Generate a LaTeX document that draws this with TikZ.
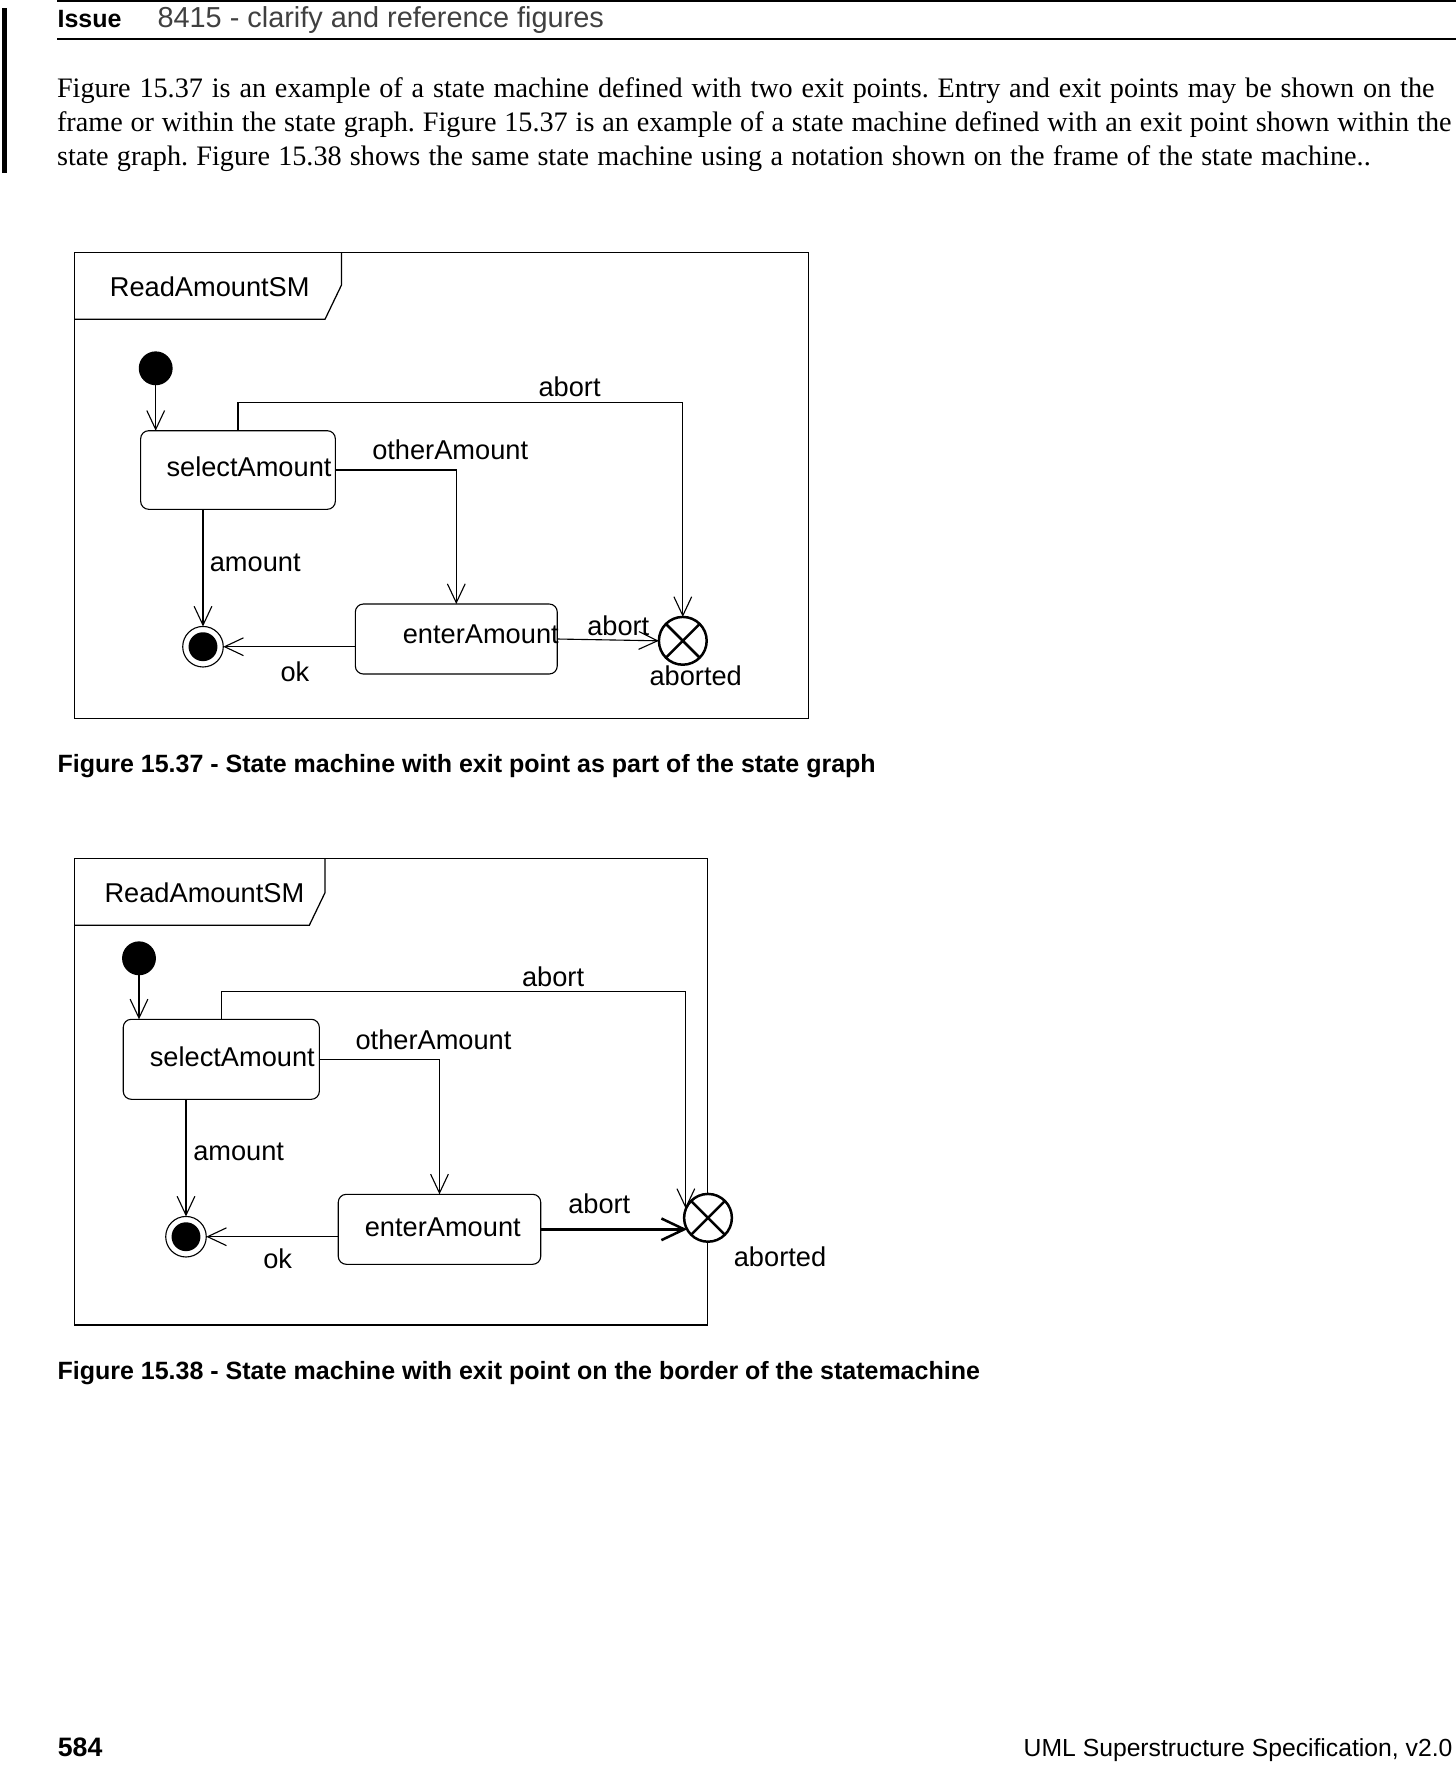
\documentclass[tikz,border=0pt]{standalone}
\usepackage{fontspec}
\setmainfont{Liberation Serif}
\newfontfamily\arialfont{Liberation Sans}
\usetikzlibrary{arrows.meta}

\tikzset{
  stbox/.style={draw, rounded corners=2.9pt, inner sep=0pt, outer sep=0pt, line width=0.4pt},
  initdot/.style={circle, fill=black, minimum size=12.2pt, inner sep=0pt, outer sep=0pt},
  finaldot/.style={circle, draw, minimum size=14.6pt, inner sep=0pt, outer sep=0pt, line width=0.4pt},
  exitpt/.style={circle, draw, fill=white, minimum size=17.2pt, inner sep=0pt, outer sep=0pt, line width=0.9pt},
  tr/.style={line width=0.4pt, -{Straight Barb[length=6.8pt,width=6.4pt]}},
  trbold/.style={line width=0.9pt, -{Straight Barb[length=8.2pt,width=7.8pt]}},
  lbl/.style={anchor=base west, inner sep=0pt, font=\arialfont\fontsize{9.8}{11}\selectfont},
  bodyline/.style={anchor=base west, inner sep=0pt, font=\fontsize{10.15}{12}\selectfont\frenchspacing},
  caption/.style={anchor=base west, inner sep=0pt, font=\arialfont\bfseries\fontsize{9}{11}\selectfont},
  frm/.style={line width=0.45pt},
}

\begin{document}
\begin{tikzpicture}[x=0.36pt, y=-0.36pt]
\useasboundingbox (0,0) rectangle (1456,1773);

% page header
\draw[line width=0.4pt] (57,1) -- (1456,1);
\draw[line width=0.8pt] (57,39) -- (1456,39);
\fill (1.7,8.3) rectangle (7.3,173);
\node[anchor=base west, inner sep=0pt, font=\arialfont\bfseries\fontsize{9}{11}\selectfont] (issue) at (57,27) {Issue};
\node[anchor=base west, inner sep=0pt, text=black!75, font=\arialfont\fontsize{10.4}{12}\selectfont] (issuetxt) at (157,27) {8415 - clarify and reference figures};

\node[bodyline] (body1) at (56.5,97) {\makebox[495.9pt][s]{Figure 15.37 is an example of a state machine defined with two exit points. Entry and exit points may be shown on the}};
\node[bodyline] (body2) at (56.5,131) {\makebox[502pt][s]{frame or within the state graph. Figure 15.37 is an example of a state machine defined with an exit point shown within the}};
\node[bodyline] (body3) at (56.5,165) {\makebox[472.9pt][s]{state graph. Figure 15.38 shows the same state machine using a notation shown on the frame of the state machine..}};

% figure 15.37
\draw[frm] (74.3,252.7) rectangle (808.3,718.3);
\draw[frm] (74.3,319.3) -- (325,319.3) -- (341.5,285) -- (341.5,252.7);
\node[lbl] (title1) at (109.3,296) {ReadAmountSM};

\node[initdot] (init1) at (155.7,368.3) {};
\node[stbox, minimum width=70.1pt, minimum height=28.3pt] (sel1) at (238,470) {};
\node[stbox, minimum width=72.7pt, minimum height=25.2pt] (ent1) at (456.3,639) {};
\node[finaldot] (fin1) at (203,646.7) {};
\fill (fin1) circle (5.2pt);
\node[exitpt] (exit1) at (682.8,640.8) {};
\draw[line width=0.9pt] (exit1.45) -- (exit1.225) (exit1.135) -- (exit1.315);
\coordinate (top1) at (0,402.3);

\draw[tr] (init1.south) -- (init1 |- sel1.north);
\draw[tr] (sel1.north) |- (exit1.north |- top1) -- (exit1.north);
\draw[tr] (sel1.east) -| (ent1.north);
\draw[tr] (fin1.north |- sel1.south) -- (fin1.north);
\draw[tr] (ent1.west |- fin1.east) -- (fin1.east);
\draw[tr] (ent1.east) -- (exit1.west);

\node[lbl] (seltxt1) at (166,476.7) {selectAmount};
\node[lbl] (enttxt1) at (402.3,643.3) {enterAmount};
\node[lbl] (abtop1) at (538,396.7) {abort};
\node[lbl] (other1) at (371.7,459.3) {otherAmount};
\node[lbl] (amt1) at (209.3,571.7) {amount};
\node[lbl] (ok1) at (280,681.7) {ok};
\node[lbl] (ablow1) at (586.7,635) {abort};
\node[lbl] (aborted1) at (649,685) {aborted};

\node[caption] (cap1) at (57,772.3) {Figure 15.37 - State machine with exit point as part of the state graph};

% figure 15.38
\draw[frm] (74.3,858.3) rectangle (707.3,1325);
\draw[frm] (74.3,925.3) -- (309.3,925.3) -- (325,892.7) -- (325,858.3);
\node[lbl] (title2) at (104,902.3) {ReadAmountSM};

\node[initdot] (init2) at (139,958.3) {};
\node[stbox, minimum width=70.6pt, minimum height=28.8pt] (sel2) at (221.3,1059.3) {};
\node[stbox, minimum width=72.9pt, minimum height=25.2pt] (ent2) at (439.5,1229.3) {};
\node[finaldot] (fin2) at (186,1236.7) {};
\fill (fin2) circle (5.2pt);
\node[exitpt] (exit2) at (708,1217.8) {};
\draw[line width=0.9pt] (exit2.45) -- (exit2.225) (exit2.135) -- (exit2.315);
\coordinate (top2) at (0,991.7);

\draw[tr] (init2.south) -- (init2 |- sel2.north);
\draw[tr] (sel2.north) |- (exit2.158 |- top2) -- (exit2.158);
\draw[tr] (sel2.east) -| (ent2.north);
\draw[tr] (fin2.north |- sel2.south) -- (fin2.north);
\draw[tr] (ent2.west |- fin2.east) -- (fin2.east);
\draw[trbold] (ent2.east) -- (ent2.east -| exit2.209);

\node[lbl] (seltxt2) at (149.3,1066) {selectAmount};
\node[lbl] (enttxt2) at (364.3,1236.7) {enterAmount};
\node[lbl] (abtop2) at (521.5,986) {abort};
\node[lbl] (other2) at (355,1049.3) {otherAmount};
\node[lbl] (amt2) at (192.7,1160.7) {amount};
\node[lbl] (ok2) at (262.7,1268) {ok};
\node[lbl] (ablow2) at (567.7,1213.3) {abort};
\node[lbl] (aborted2) at (733.3,1266) {aborted};

\node[caption] (cap2) at (57,1379) {Figure 15.38 - State machine with exit point on the border of the statemachine};

% page footer
\node[anchor=base west, inner sep=0pt, font=\arialfont\bfseries\fontsize{9.6}{11}\selectfont] (pageno) at (57.3,1756.7) {584};
\node[anchor=base east, inner sep=0pt, font=\arialfont\fontsize{8.9}{11}\selectfont] (spec) at (1453,1756.7) {UML Superstructure Specification, v2.0};
\end{tikzpicture}
\end{document}
